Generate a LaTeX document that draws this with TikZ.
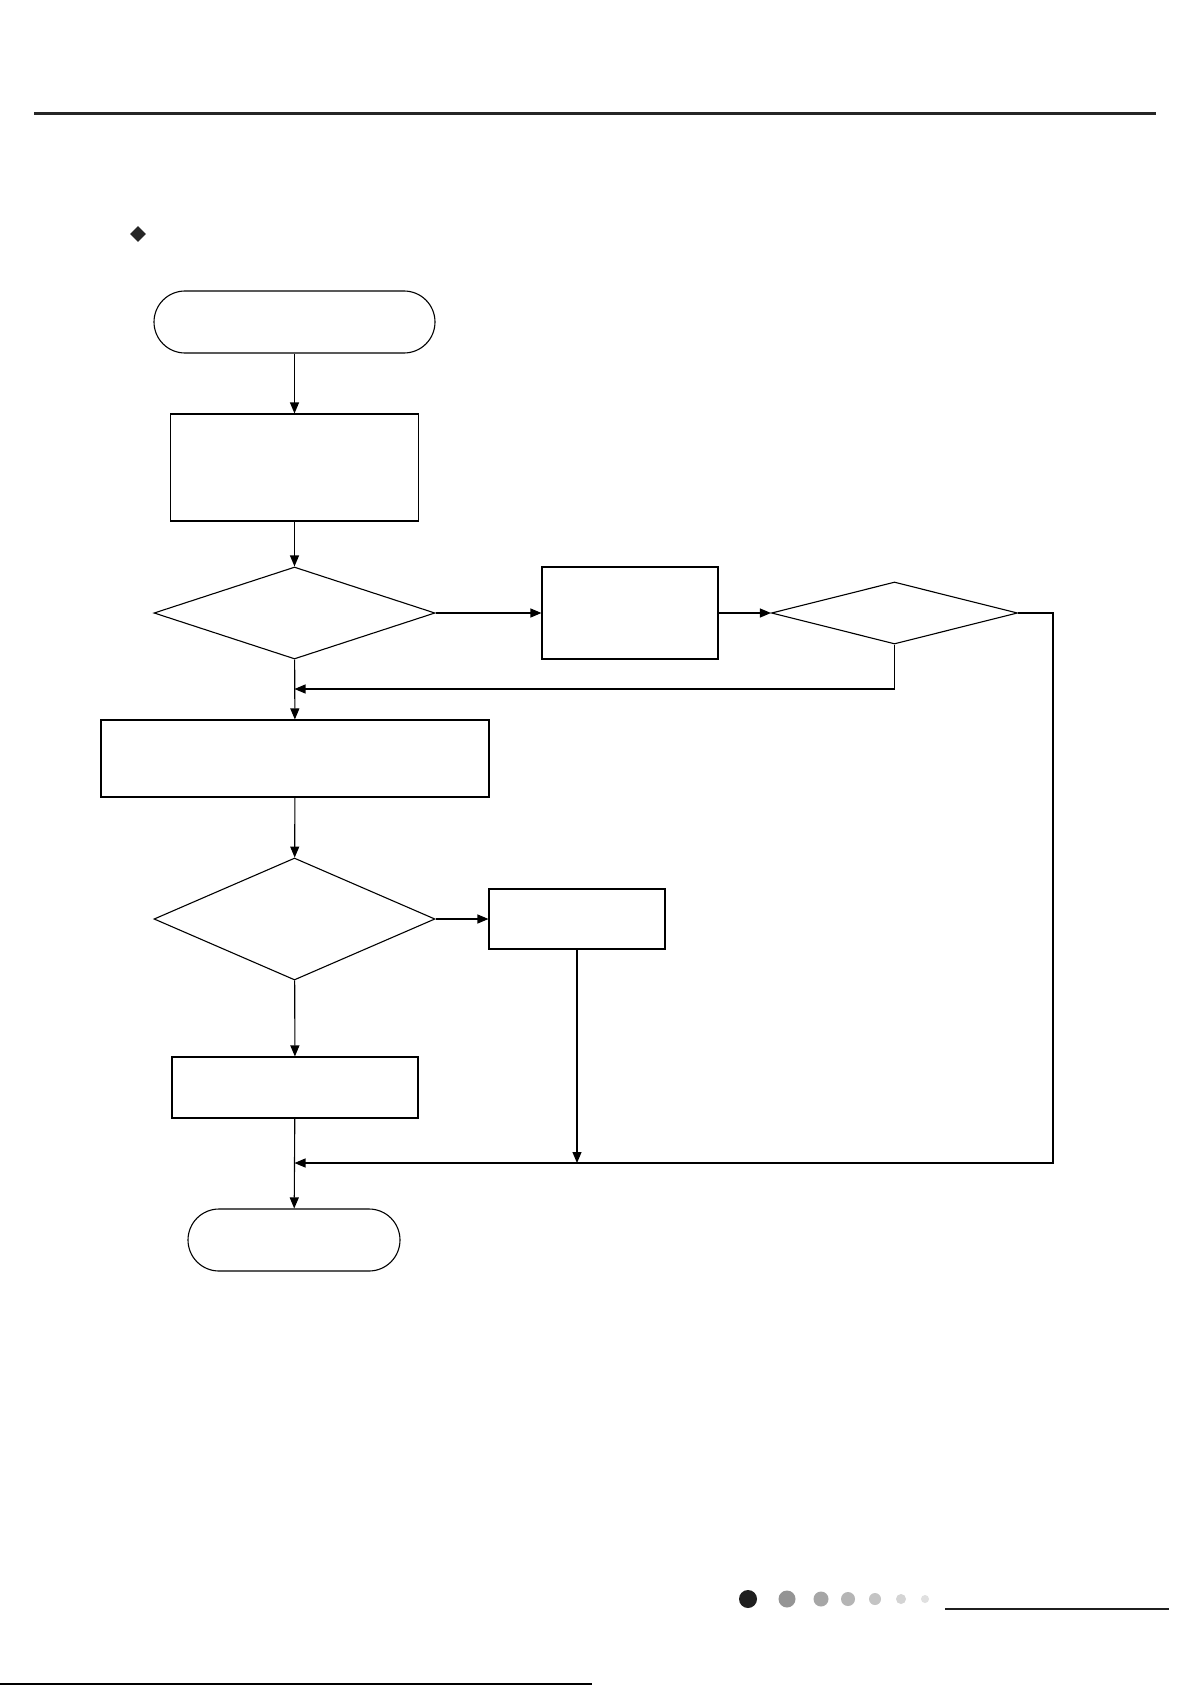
\documentclass[tikz,border=0pt]{standalone}
\usepackage{tikz}
\usetikzlibrary{arrows.meta, positioning, shapes.geometric, shapes.misc}

\begin{document}
\begin{tikzpicture}[x=1pt, y=-1pt,
      box/.style={draw, line width=1.1pt, inner sep=0pt},
      term/.style={draw, rounded rectangle, line width=1.1pt, inner sep=0pt},
      dec/.style={draw, diamond, line width=1.1pt, inner sep=0pt},
      arr/.style={-{Triangle[length=11pt, width=9pt]}, line width=1.1pt},
      ln/.style={line width=1.1pt},
      dot/.style={circle, fill, inner sep=0pt}]
    \useasboundingbox[fill=white] (0,0) rectangle (1191,1685);
    % page rules and bullet
    \draw[line width=3pt, black!85] (34,114) -- (1156,114);
    \node[diamond, fill=black!85, minimum size=16pt, inner sep=0pt] (bullet) at (138,234) {};
    % flow
    \node[term, minimum width=281pt, minimum height=62pt] (start) at (294.5,322) {};
    \node[box, minimum width=248pt, minimum height=107pt] (init) at (294.5,467.5) {};
    \node[dec, minimum width=281pt, minimum height=92pt] (chk1) at (294.5,613) {};
    \node[box, minimum width=176pt, minimum height=92pt] (act1) at (630,613) {};
    \node[dec, minimum width=246pt, minimum height=62pt] (chk2) at (894.5,613) {};
    \node[box, minimum width=388pt, minimum height=77pt] (run) at (295,758.5) {};
    \node[dec, minimum width=281pt, minimum height=122pt] (chk3) at (294.5,919) {};
    \node[box, minimum width=176pt, minimum height=60pt] (act2) at (577,919) {};
    \node[box, minimum width=246pt, minimum height=61pt] (act3) at (295,1087.5) {};
    \node[term, minimum width=212pt, minimum height=62pt] (stop) at (294,1240) {};
    \coordinate (back) at (294.5,689);
    \coordinate (join) at (294.5,1163);
    \draw[arr] (start) -- (init);
    \draw[arr] (init) -- (chk1);
    \draw[arr] (chk1) -- (run);
    \draw[arr] (chk1) -- (act1);
    \draw[arr] (act1) -- (chk2);
    \draw[arr] (chk2.south) |- (back);
    \draw[arr] (run) -- (chk3);
    \draw[arr] (chk3) -- (act2);
    \draw[arr] (chk3) -- (act3);
    \draw[arr] (act3) -- (stop);
    \draw[arr] (act2) -- (act2 |- join);
    \draw[arr] (chk2.east) -- (1053,613) |- (join);
    % footer
    \node[dot, fill=black!88, minimum size=18pt] (d1) at (748,1599) {};
    \node[dot, fill=black!42, minimum size=17pt] (d2) at (787,1599) {};
    \node[dot, fill=black!35, minimum size=15pt] (d3) at (821,1599) {};
    \node[dot, fill=black!29, minimum size=14pt] (d4) at (848,1599) {};
    \node[dot, fill=black!23, minimum size=12pt] (d5) at (875,1599) {};
    \node[dot, fill=black!17, minimum size=10pt] (d6) at (901,1599) {};
    \node[dot, fill=black!12, minimum size=8pt] (d7) at (925,1599) {};
    \draw[line width=2pt, black!88] (945,1609) -- (1169,1609);
    \draw[line width=2pt] (0,1684) -- (592,1684);
\end{tikzpicture}
\end{document}
